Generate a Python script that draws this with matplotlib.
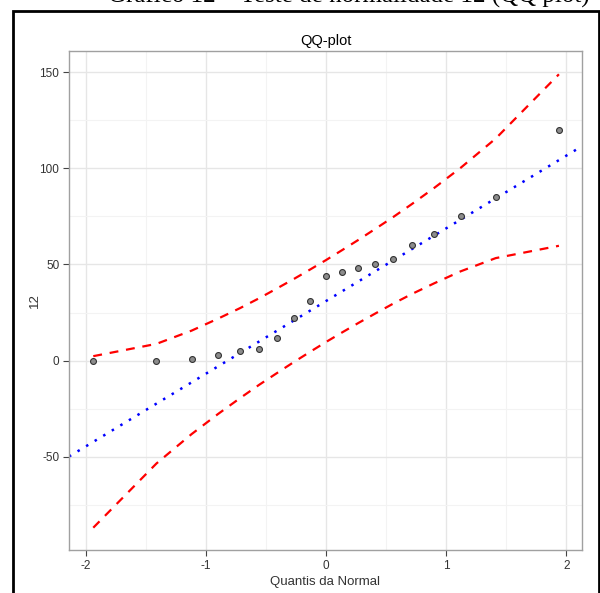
import numpy as np
import matplotlib.pyplot as plt
from matplotlib.patches import Rectangle
from matplotlib.ticker import MultipleLocator

plt.rcParams['font.family'] = ['Liberation Sans', 'DejaVu Sans']
plt.rcParams['axes.unicode_minus'] = False

# theoretical normal quantiles (n = 19) and sorted sample values
quantis = [-1.938, -1.412, -1.119, -0.900, -0.716, -0.555, -0.407, -0.267, -0.132, 0.0,
           0.132, 0.267, 0.407, 0.555, 0.716, 0.900, 1.119, 1.412, 1.938]
amostra = [0, 0, 1, 3, 5, 6, 12, 22, 31, 44, 46, 48, 50, 53, 60, 66, 75, 85, 120]

# confidence envelope (red dashed)
env_sup = [2.3, 8.7, 15.6, 21.8, 27.3, 32.5, 37.6, 42.5, 47.4, 52.3,
           57.4, 62.7, 68.4, 74.5, 81.5, 89.8, 100.2, 115.5, 148.9]
env_inf = [-86.9, -53.5, -38.2, -27.8, -19.5, -12.5, -6.4, -0.7, 4.6, 9.7,
           14.6, 19.5, 24.4, 29.5, 34.7, 40.2, 46.4, 53.3, 59.7]

# reference line (blue dotted)
intercepto = 31.0
inclinacao = 37.8

fig = plt.figure(figsize=(6, 5.93), dpi=100)
ax = fig.add_axes([0.115, 0.0725, 0.855, 0.8415])

ax.set_xlim(-2.14, 2.13)
ax.set_ylim(-98.5, 161)

ax.xaxis.set_major_locator(MultipleLocator(1))
ax.xaxis.set_minor_locator(MultipleLocator(0.5))
ax.yaxis.set_major_locator(MultipleLocator(50))
ax.yaxis.set_minor_locator(MultipleLocator(25))
ax.grid(True, which='major', color='#e6e6e6', lw=1.0, zorder=0)
ax.grid(True, which='minor', color='#f3f3f3', lw=0.8, zorder=0)
ax.set_axisbelow(True)

xs = np.array(ax.get_xlim())
ax.plot(xs, intercepto + inclinacao * xs, color='blue', ls=(0, (1, 3)), lw=1.8, zorder=2)
ax.plot(quantis, env_sup, color='red', ls=(0, (4, 3.5)), lw=1.6, zorder=2)
ax.plot(quantis, env_inf, color='red', ls=(0, (4, 3.5)), lw=1.6, zorder=2)
ax.scatter(quantis, amostra, s=18, facecolor='#8c8c8c', edgecolor='#333333', lw=0.8, zorder=3)

for s in ax.spines.values():
    s.set_color('#a0a0a0')
    s.set_linewidth(1.0)
ax.tick_params(which='major', direction='out', length=4, width=0.8, color='#444444',
               labelsize=8.5, labelcolor='#333333', pad=3)
ax.tick_params(which='minor', length=0)

ax.set_title('QQ-plot', fontsize=10.5, pad=4)
ax.set_xlabel('Quantis da Normal', fontsize=9.5, color='#333333', labelpad=3)
ax.set_ylabel('12', fontsize=9.5, color='#333333')
ax.yaxis.set_label_coords(-0.054, 0.5)

# outer frame and the cut caption above it
fig.patches.append(Rectangle((13 / 600, -0.05), 586 / 600, 1 - 11 / 593 + 0.05,
                             transform=fig.transFigure, fill=False, ec='black', lw=2))
fig.text(590 / 600, 1 - 3 / 593, 'Gráfico 12 – Teste de normalidade 12 (QQ plot)',
         family='Liberation Serif', fontsize=18, ha='right', va='baseline')

fig.savefig('out.png', dpi=100)
